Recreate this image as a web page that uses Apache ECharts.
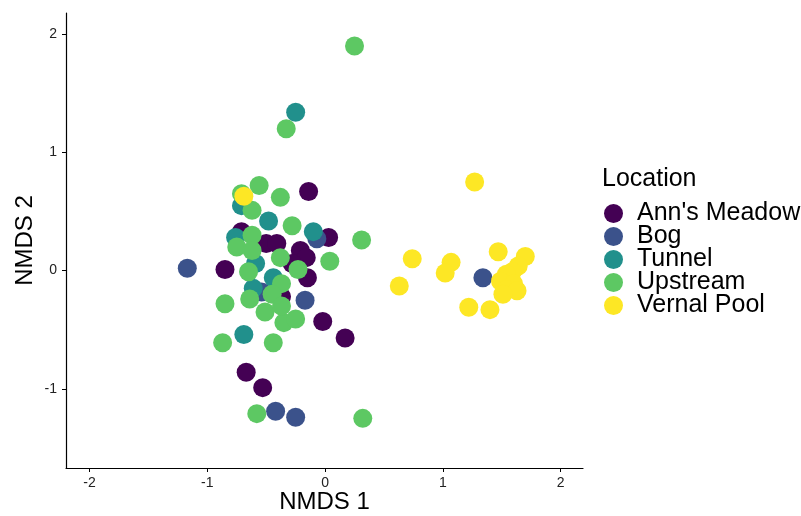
<!DOCTYPE html>
<html><head><meta charset="utf-8">
<script src="https://cdn.jsdelivr.net/npm/echarts@6/dist/echarts.min.js"></script>
<style>html,body{margin:0;padding:0;background:#fff}#c{width:801px;height:516px}</style>
</head><body><div id="c"></div>
<script>
const groups = ["Ann's Meadow", "Bog", "Tunnel", "Upstream", "Vernal Pool"];
const colors = ["#440154", "#3B528B", "#21908C", "#5DC863", "#FDE725"];
const xTicks = [-2, -1, 0, 1, 2];
const yTicks = [-1, 0, 1, 2];

const annsMeadow = [[-0.14,0.67],[-0.71,0.33],[-0.50,0.23],[-0.41,0.23],[0.03,0.28],[-0.21,0.17],[-0.16,0.11],[-0.28,0.06],[-0.85,0.01],[-0.15,-0.06],[-0.37,-0.22],[-0.02,-0.43],[0.17,-0.57],[-0.67,-0.86],[-0.53,-0.99]];
const bog = [[-1.17,0.02],[-0.07,0.27],[-0.54,-0.18],[-0.17,-0.25],[-0.42,-1.19],[-0.25,-1.24],[1.34,-0.06]];
const tunnel = [[-0.25,1.34],[-0.71,0.55],[-0.48,0.42],[-0.10,0.33],[-0.76,0.28],[-0.59,0.06],[-0.44,-0.06],[-0.61,-0.15],[-0.69,-0.54]];
const upstream = [[0.25,1.90],[-0.33,1.20],[-0.71,0.65],[-0.56,0.72],[-0.38,0.62],[-0.62,0.51],[-0.28,0.38],[-0.62,0.30],[0.31,0.26],[-0.75,0.20],[-0.62,0.17],[-0.38,0.11],[-0.23,0.01],[0.04,0.08],[-0.65,-0.01],[-0.37,-0.11],[-0.45,-0.20],[-0.64,-0.24],[-0.85,-0.28],[-0.51,-0.35],[-0.35,-0.44],[-0.25,-0.41],[-0.87,-0.61],[-0.44,-0.61],[-0.58,-1.21],[0.32,-1.25],[-0.37,-0.30]];
const vernalPool = [[-0.69,0.63],[1.27,0.75],[0.74,0.10],[0.63,-0.13],[1.07,0.07],[1.02,-0.02],[1.47,0.16],[1.70,0.12],[1.64,0.04],[1.59,-0.01],[1.54,-0.03],[1.49,-0.09],[1.60,-0.11],[1.54,-0.16],[1.63,-0.17],[1.51,-0.20],[1.22,-0.31],[1.40,-0.33]];
const seriesData = [annsMeadow, bog, tunnel, upstream, vernalPool];

const font = "Liberation Sans, Arial, Helvetica, sans-serif";
const chart = echarts.init(document.getElementById('c'), null, {renderer: 'canvas'});
chart.setOption({
  animation: false,
  backgroundColor: '#fff',
  title: {text: 'Location', left: 602, top: 167, padding: 0,
    textStyle: {fontSize: 25, fontWeight: 'normal', color: '#000', fontFamily: font}},
  legend: {orient: 'vertical', left: 604, top: 201, padding: 0, icon: 'circle',
    itemWidth: 19, itemHeight: 19, itemGap: -2,
    textStyle: {fontSize: 25, color: '#000', fontFamily: font, padding: [0,0,0,9]},
    data: groups},
  grid: {left: 66, right: 218, top: 13, bottom: 48, containLabel: false, outerBoundsMode: 'none'},
  xAxis: {type: 'value', min: -2.2, max: 2.19, name: 'NMDS 1', nameLocation: 'middle', nameGap: 22, nameMoveOverlap: false,
    nameTextStyle: {fontSize: 24, color: '#000', fontFamily: font},
    splitLine: {show: false},
    axisLine: {show: true, onZero: false, lineStyle: {color: '#000', width: 1.2}},
    axisTick: {show: true, length: 4, lineStyle: {color: '#000'}, customValues: xTicks},
    axisLabel: {fontSize: 14, color: '#222', fontFamily: font, margin: 8, customValues: xTicks}},
  yAxis: {type: 'value', min: -1.67, max: 2.18, name: 'NMDS 2', nameLocation: 'middle', nameGap: 29, nameRotate: 90, nameMoveOverlap: false,
    nameTextStyle: {fontSize: 24, color: '#000', fontFamily: font},
    splitLine: {show: false},
    axisLine: {show: true, onZero: false, lineStyle: {color: '#000', width: 1.2}},
    axisTick: {show: true, length: 4, lineStyle: {color: '#000'}, customValues: yTicks},
    axisLabel: {fontSize: 14, color: '#222', fontFamily: font, margin: 9, customValues: yTicks}},
  series: groups.map((g, i) => ({
    name: g, type: 'scatter', symbol: 'circle', symbolSize: 19,
    itemStyle: {color: colors[i], opacity: 1},
    emphasis: {disabled: true},
    data: seriesData[i]
  }))
});
</script></body></html>
